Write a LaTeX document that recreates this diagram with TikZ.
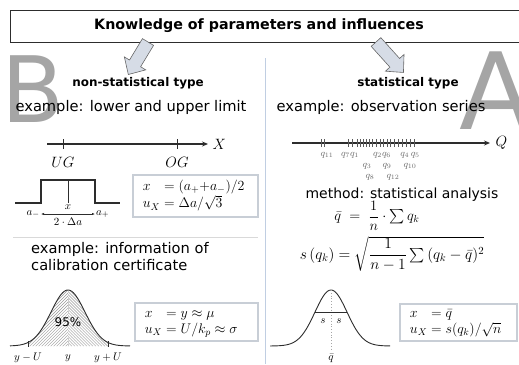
\RequirePackage{fix-cm}
\documentclass[tikz,border=0pt]{standalone}
\usepackage{amsmath}
\usepackage{fontspec}
\setmainfont{DejaVu Sans}
\usepackage{tikz}
\usetikzlibrary{arrows.meta, positioning, calc, patterns}
\definecolor{arrowfill}{RGB}{214, 220, 230}
\definecolor{lettergray}{RGB}{165, 165, 165}
\definecolor{boxline}{RGB}{200, 206, 214}
\definecolor{divider}{RGB}{192, 206, 226}
\definecolor{axisgray}{RGB}{45, 45, 45}

\tikzset{
  bigletter/.style={lettergray, inner sep=0pt},
  head/.style={font=\bfseries\fontsize{12}{14}\selectfont},
  blockarrow/.style={draw=gray!80!black, fill=arrowfill, line width=0.6bp,
    line join=miter},
  formbox/.style={draw=boxline, line width=1.1bp, inner sep=0pt},
  formula/.style={anchor=west, font=\fontsize{14}{16}\selectfont},
  axis/.style={axisgray, line width=1.3bp, -{Stealth[length=6bp, width=5bp]}},
  curve/.style={axisgray, line width=0.9bp},
  qlab/.style={gray!85!black, font=\fontsize{9.5}{10}\selectfont, inner sep=0pt},
  smallmath/.style={font=\fontsize{11}{12}\selectfont, inner sep=1pt},
}

\begin{document}
\begin{tikzpicture}[x=1bp, y=-1bp, font=\fontsize{14.7}{17}\selectfont]
  \useasboundingbox (0,0) rectangle (519,364);

  % Big letters in the background
  \node[bigletter, font=\fontsize{92}{92}\selectfont] (letB) at (33,89) {B};
  \node[bigletter, font=\fontsize{107}{107}\selectfont] (letA) at (496,91) {A};

  % ---- Title ----
  \node[draw=axisgray, line width=0.8bp, minimum width=520bp, minimum height=32bp,
        anchor=north west] (titlebox) at (10,10) {};
  \node[font=\bfseries\fontsize{14.3}{16}\selectfont] (title) at (259,26)
    {Knowledge of parameters and influences};
  \foreach \px/\ang/\len in {148/238.8/38, 376/312/41} {
    \begin{scope}[shift={(\px,42)}, rotate=\ang]
      \draw[blockarrow] (0,-6.5) -- (\len-13,-6.5) -- (\len-13,-12.5) -- (\len,0)
        -- (\len-13,12.5) -- (\len-13,6.5) -- (0,6.5) -- cycle;
    \end{scope}
  }

  % dividers
  \draw[divider, line width=1bp] (265,58) -- (265,364);
  \draw[gray!30, line width=1bp] (13,237) -- (258,237);

  % ---- Non-statistical type ----
  \node[head] (typeL) at (138,83) {non-statistical type};
  \node (exL) at (131,107) {example: lower and upper limit};

  \coordinate (xs) at (47,144);
  \coordinate (xe) at (208,144);
  \draw[axis] (xs) -- (xe);
  \node[right=1bp of xe, font=\fontsize{15}{16}\selectfont] (labX) {$X$};
  \foreach \t/\lab in {63/UG, 177/OG} {
    \draw[axisgray, line width=0.9bp] (\t,139) -- (\t,149);
    \node[font=\fontsize{15}{16}\selectfont] (lim\lab) at (\t,162) {$\lab$};
  }

  \draw[axisgray, line width=1.6bp] (15,203) -- (41,203) -- (41,180) -- (95,180)
    -- (95,203) -- (120,203);
  \draw[axisgray, line width=0.5bp] (68,180) -- (68,203);
  \node[smallmath] (xmid) at (68,207) {$x$};
  \coordinate (am) at (41,214);
  \coordinate (ap) at (95,214);
  \draw[axisgray, line width=0.5bp, {Latex[length=3bp]}-{Latex[length=3bp]}] (am) -- (ap);
  \node[smallmath, left=0pt of am] (aminus) {$a_-$};
  \node[smallmath, right=0pt of ap] (aplus) {$a_+$};
  \node[smallmath] (twoda) at (68,222) {$2\cdot\Delta a$};

  \node[formbox, minimum width=125bp, minimum height=42bp] (boxA) at (195.5,196) {};
  \node[formula] (frmA) at ([xshift=7bp]boxA.west)
    {$\begin{array}{@{}l@{\;}l@{}} x & = (a_+{+}a_-)/2\\ u_X & = \Delta a/\sqrt{3}\end{array}$};

  \node[anchor=north west, align=left, inner sep=0pt] (exCal) at (31,242)
    {example: information of\\calibration certificate};

  \fill[pattern=north east lines, pattern color=gray!80] (28,346)
    -- plot[domain=28:68, samples=40] (\x, {346-56*exp(-((\x-68)^2)/578)}) -- (68,346) -- cycle;
  \fill[pattern=north west lines, pattern color=gray!80] (68,346)
    -- plot[domain=68:108, samples=40] (\x, {346-56*exp(-((\x-68)^2)/578)}) -- (108,346) -- cycle;
  \draw[gray!40, dotted, line width=0.8bp] (68,291) -- (68,346);
  \draw[curve] plot[domain=10:130, samples=90] (\x, {346-56*exp(-((\x-68)^2)/578)});
  \draw[axisgray, line width=0.8bp] (28,341) -- (28,347) (108,341) -- (108,347);
  \node[font=\fontsize{12}{14}\selectfont, inner sep=1pt] (pct) at (68,322) {95\%};
  \foreach \t/\lab/\nm in {28/y-U/lo, 68/y/mid, 108/y+U/hi}
    \node[smallmath] (cal\nm) at (\t,358) {$\lab$};

  \node[formbox, minimum width=123bp, minimum height=38bp] (boxB) at (196.5,322) {};
  \node[formula] (frmB) at ([xshift=7bp]boxB.west)
    {$\begin{array}{@{}l@{\;}l@{}} x & = y \approx \mu\\ u_X & = U/k_p \approx \sigma\end{array}$};

  % ---- Statistical type ----
  \node[head] (typeR) at (408,83) {statistical type};
  \node (exR) at (381,107) {example: observation series};

  \coordinate (qs) at (292,143);
  \coordinate (qe) at (490,143);
  \draw[axis] (qs) -- (qe);
  \node[right=2bp of qe, font=\fontsize{15}{16}\selectfont] (labQ) {$Q$};
  \foreach \t in {321,324,348,352,357,360,363,366,369,372,376,380,383,387,390,394,398,402,406,410,414}
    \draw[gray!70!black, line width=0.5bp] (\t,139) -- (\t,147);
  \foreach \t/\row/\lab/\nm in {327/155/q_{11}/a, 350/155/q_7q_1/b, 382/155/q_2q_6/c,
      410/155/q_4\,q_5/d, 367/166/q_3/e, 387/166/q_9/f, 410/166/q_{10}/g,
      370/177/q_8/h, 393/177/q_{12}/i}
    \node[qlab] (obs\nm) at (\t,\row) {$\lab$};

  \node[font=\fontsize{14}{16}\selectfont] (method) at (402,195) {method: statistical analysis};
  \node[font=\fontsize{14.5}{16}\selectfont] (mean) at (377,216)
    {$\bar q \;=\; \dfrac{1}{n}\cdot\sum q_k$};
  \node[font=\fontsize{15.5}{17}\selectfont] (stdev) at (392,254)
    {$s\,(q_k) = \sqrt{\dfrac{1}{n-1}\sum\,(q_k-\bar q)^2}$};

  \draw[curve] plot[domain=270:390, samples=90] (\x, {346-56*exp(-((\x-331)^2)/512)});
  \draw[gray!70, dotted, line width=0.8bp] (331,290) -- (331,350);
  \draw[axisgray, line width=1bp] (315,312) -- (347,312);
  \node[smallmath] (sl) at (323,321) {$s$};
  \node[smallmath] (sr) at (339,321) {$s$};
  \node[smallmath] (qbar) at (331,358) {$\bar q$};

  \node[formbox, minimum width=117bp, minimum height=37bp] (boxC) at (458.5,322.5) {};
  \node[formula] (frmC) at ([xshift=7bp]boxC.west)
    {$\begin{array}{@{}l@{\;}l@{}} x & = \bar q\\ u_X & = s(q_k)/\sqrt{n}\end{array}$};
\end{tikzpicture}
\end{document}
